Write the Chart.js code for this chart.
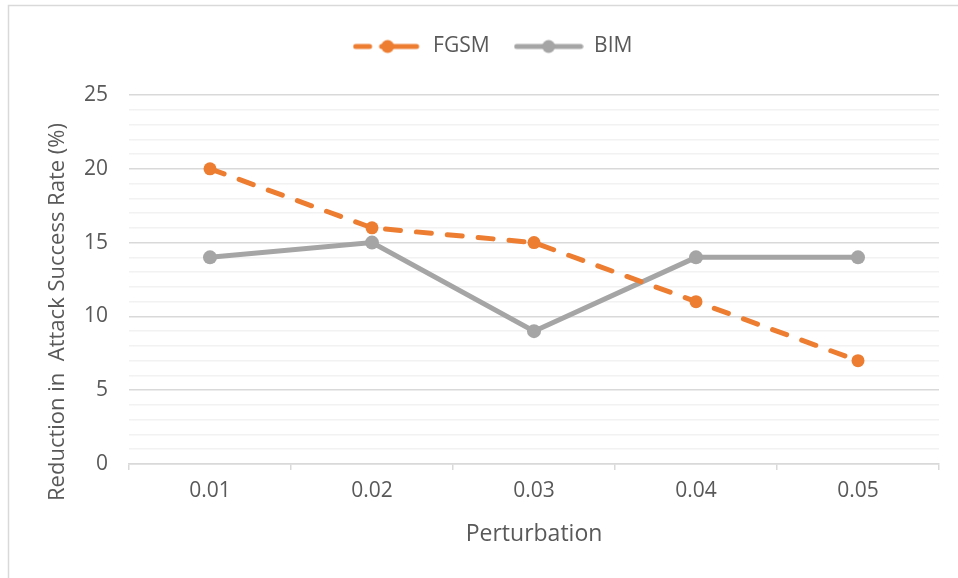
<!DOCTYPE html>
<html>
<head>
<meta charset="utf-8">
<script src="https://cdn.jsdelivr.net/npm/chart.js@4"></script>
<style>
    html, body { margin: 0; padding: 0; background: #fff; }
    #wrap { width: 958px; height: 578px; position: relative; }
</style>
</head>
<body>
<div id="wrap"><canvas id="grafico" width="958" height="578"></canvas></div>
<script>
// datos
const perturbaciones = ['0.01', '0.02', '0.03', '0.04', '0.05'];
const valoresFGSM = [20, 16, 15, 11, 7];
const valoresBIM = [14, 15, 9, 14, 14];
const ticksY = [0, 5, 10, 15, 20, 25];

const NARANJA = '#ED7D31';
const GRIS = '#A5A5A5';
const TEXTO = '#595959';
const FUENTE = "'Open Sans', sans-serif";

// icono de leyenda: linea con marcador
function iconoLeyenda(color, discontinua) {
    const c = document.createElement('canvas');
    c.width = 70;
    c.height = 16;
    const g = c.getContext('2d');
    g.strokeStyle = color;
    g.fillStyle = color;
    g.lineWidth = 5;
    g.lineCap = 'round';
    g.beginPath();
    if (discontinua) {
        g.moveTo(3, 8); g.lineTo(17, 8);
        g.moveTo(29, 8); g.lineTo(64, 8);
    } else {
        g.moveTo(3, 8); g.lineTo(67, 8);
    }
    g.stroke();
    g.beginPath();
    g.arc(35, 8, 6.5, 0, Math.PI * 2);
    g.fill();
    return c;
}

// marco exterior, titulo vertical y posicion de la leyenda
const extras = {
    id: 'extras',
    beforeLayout(chart) {
        const ley = chart.legend;
        if (ley && !ley._altoFijo) {
            const fitOriginal = ley.fit.bind(ley);
            ley.fit = function () {
                fitOriginal();
                this.height = 83;
            };
            ley._altoFijo = true;
        }
    },
    afterLayout(chart) {
        // Excel centra la leyenda un poco mas a la derecha
        if (chart.legend) chart.legend.left += 46;
    },
    beforeDraw(chart) {
        const ctx = chart.ctx;
        ctx.save();
        ctx.strokeStyle = '#D9D9D9';
        ctx.lineWidth = 1.5;
        ctx.beginPath();
        ctx.moveTo(8.5, 600);
        ctx.lineTo(8.5, 5.5);
        ctx.lineTo(990, 5.5);
        ctx.stroke();
        ctx.restore();
    },
    afterDraw(chart) {
        const ctx = chart.ctx;
        ctx.save();
        ctx.translate(58, 312);
        ctx.rotate(-Math.PI / 2);
        ctx.fillStyle = TEXTO;
        ctx.font = '22px ' + FUENTE;
        ctx.textAlign = 'center';
        ctx.textBaseline = 'middle';
        ctx.fillText('Reduction in  Attack Success Rate (%)', 0, 0);
        ctx.restore();
    }
};

new Chart(document.getElementById('grafico'), {
    type: 'line',
    data: {
        labels: perturbaciones,
        datasets: [{
            label: 'FGSM',
            data: valoresFGSM,
            borderColor: NARANJA,
            backgroundColor: NARANJA,
            borderWidth: 5,
            borderDash: [15, 16],
            borderCapStyle: 'round',
            pointRadius: 6.5,
            pointBorderWidth: 0,
            pointBackgroundColor: NARANJA,
            tension: 0
        }, {
            label: 'BIM',
            data: valoresBIM,
            borderColor: GRIS,
            backgroundColor: GRIS,
            borderWidth: 5,
            pointRadius: 7,
            pointBorderWidth: 0,
            pointBackgroundColor: GRIS,
            tension: 0
        }]
    },
    options: {
        responsive: false,
        animation: false,
        layout: { padding: { left: 0, right: 19, top: 12, bottom: 0 } },
        scales: {
            x: {
                offset: true,
                grid: {
                    offset: true,
                    drawOnChartArea: false,
                    drawTicks: true,
                    tickLength: 6,
                    color: '#D9D9D9',
                    lineWidth: 1.5
                },
                border: { display: true, color: '#D9D9D9', width: 1.5 },
                ticks: {
                    color: TEXTO,
                    font: { family: FUENTE, size: 21 },
                    padding: 8
                },
                title: {
                    display: true,
                    text: 'Perturbation',
                    color: TEXTO,
                    font: { family: FUENTE, size: 23 },
                    padding: { top: 0, bottom: 30 }
                },
                afterFit(scale) { scale.height = 114; }
            },
            y: {
                min: 0,
                max: 25,
                grid: {
                    drawTicks: false,
                    color: ctx => (ticksY.includes(ctx.tick.value) ? '#D9D9D9' : '#F2F2F2'),
                    lineWidth: 1.5
                },
                border: { display: false },
                ticks: {
                    stepSize: 1,
                    autoSkip: false,
                    color: TEXTO,
                    font: { family: FUENTE, size: 21 },
                    padding: 21,
                    callback: v => (ticksY.includes(v) ? v : '')
                },
                afterFit(scale) { scale.width = 129; }
            }
        },
        plugins: {
            legend: {
                position: 'top',
                labels: {
                    color: TEXTO,
                    font: { family: FUENTE, size: 21 },
                    usePointStyle: true,
                    pointStyleWidth: 70,
                    padding: 24,
                    generateLabels(chart) {
                        return chart.data.datasets.map((ds, i) => ({
                            text: ds.label,
                            fontColor: TEXTO,
                            pointStyle: iconoLeyenda(ds.borderColor, i === 0),
                            lineWidth: 0,
                            strokeStyle: 'transparent',
                            fillStyle: ds.borderColor,
                            datasetIndex: i
                        }));
                    }
                }
            },
            tooltip: { enabled: false }
        }
    },
    plugins: [extras]
});
</script>
</body>
</html>
